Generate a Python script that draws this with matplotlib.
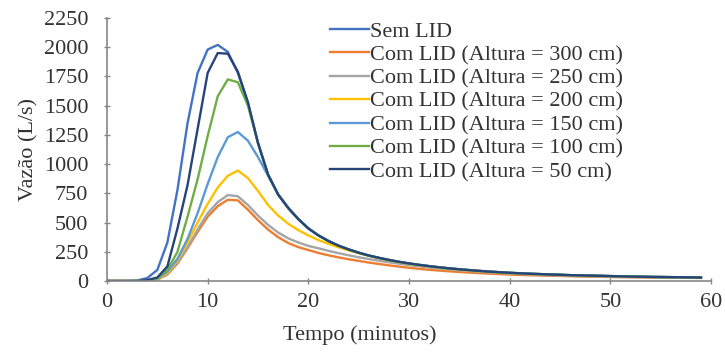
import matplotlib
matplotlib.use("Agg")
from matplotlib import pyplot as plt

plt.rcParams['font.family'] = ['Liberation Serif', 'DejaVu Serif']

tempo = list(range(60))

# valores, um por minuto
sem_lid = [0, 0, 0, 5, 25, 95, 330, 780, 1350, 1780, 1980, 2020, 1960, 1780, 1520,
           1180, 910, 740, 625, 530, 450, 390, 342, 302, 270, 242, 218, 198, 180, 164,
           150, 138, 127, 117, 108, 100, 93, 86, 80, 75, 70, 66, 62, 59, 56,
           53, 50, 48, 46, 44, 42, 40, 38, 37, 35, 34, 33, 32, 31, 30]
h300 = [0, 0, 0, 0, 3, 12, 55, 150, 280, 420, 550, 640, 695, 690, 610,
        520, 440, 375, 325, 290, 265, 240, 220, 202, 186, 172, 158, 146, 134, 123,
        113, 104, 96, 89, 83, 77, 72, 67, 63, 59, 55, 52, 49, 47, 45,
        43, 41, 39, 37, 36, 34, 33, 32, 31, 30, 29, 28, 27, 27, 26]
h250 = [0, 0, 0, 0, 3, 15, 60, 160, 290, 440, 580, 675, 735, 725, 650,
        560, 480, 415, 365, 330, 300, 280, 258, 238, 220, 203, 188, 174, 160, 148,
        136, 126, 116, 107, 99, 92, 85, 79, 74, 69, 64, 60, 56, 53, 50,
        47, 45, 43, 41, 39, 37, 36, 34, 33, 32, 31, 30, 29, 28, 27]
h200 = [0, 0, 0, 0, 3, 15, 70, 180, 330, 500, 660, 800, 900, 945, 880,
        770, 650, 560, 490, 435, 390, 350, 318, 288, 262, 238, 215, 195, 177, 161,
        147, 135, 124, 114, 105, 97, 90, 84, 78, 73, 68, 64, 60, 57, 54,
        51, 49, 47, 45, 43, 41, 39, 37, 36, 34, 33, 32, 31, 30, 29]
h150 = [0, 0, 0, 0, 4, 20, 80, 190, 360, 580, 830, 1060, 1230, 1275, 1200,
        1060, 900, 740, 625, 530, 450, 390, 342, 302, 270, 242, 218, 198, 180, 164,
        150, 138, 127, 117, 108, 100, 93, 86, 80, 75, 70, 66, 62, 59, 56,
        53, 50, 48, 46, 44, 42, 40, 38, 37, 35, 34, 33, 32, 31, 30]
h100 = [0, 0, 0, 0, 3, 25, 95, 250, 550, 870, 1240, 1580, 1725, 1700, 1500,
        1180, 910, 740, 625, 530, 450, 390, 342, 302, 270, 242, 218, 198, 180, 164,
        150, 138, 127, 117, 108, 100, 93, 86, 80, 75, 70, 66, 62, 59, 56,
        53, 50, 48, 46, 44, 42, 40, 38, 37, 35, 34, 33, 32, 31, 30]
h50 = [0, 0, 0, 0, 8, 30, 125, 450, 820, 1300, 1780, 1950, 1945, 1790, 1530,
       1180, 910, 740, 625, 530, 450, 390, 342, 302, 270, 242, 218, 198, 180, 164,
       150, 138, 127, 117, 108, 100, 93, 86, 80, 75, 70, 66, 62, 59, 56,
       53, 50, 48, 46, 44, 42, 40, 38, 37, 35, 34, 33, 32, 31, 30]

series = [
    ("Sem LID", sem_lid, "#4472C4"),
    ("Com LID (Altura = 300 cm)", h300, "#ED7D31"),
    ("Com LID (Altura = 250 cm)", h250, "#A5A5A5"),
    ("Com LID (Altura = 200 cm)", h200, "#FFC000"),
    ("Com LID (Altura = 150 cm)", h150, "#5B9BD5"),
    ("Com LID (Altura = 100 cm)", h100, "#70AD47"),
    ("Com LID (Altura = 50 cm)", h50, "#264478"),
]

txt = "#333333"
fig = plt.figure(figsize=(7.25, 3.55), dpi=100)
ax = fig.add_axes([107 / 725, 74 / 355, 604 / 725, 263 / 355])

for nome, vals, cor in series:
    ax.plot(tempo, vals, color=cor, lw=1.7, label=nome)

ax.set_xlim(0, 60)
ax.set_ylim(0, 2250)
ax.set_xticks(range(0, 61, 10))
ax.set_yticks(range(0, 2251, 250))
for s in ['top', 'right']:
    ax.spines[s].set_visible(False)
for s in ['left', 'bottom']:
    ax.spines[s].set_color('#868686')
    ax.spines[s].set_linewidth(1.2)
ax.tick_params(direction='inout', length=5, width=1, color='#868686',
               labelsize=16, labelcolor=txt)
ax.tick_params(axis='y', pad=11)
ax.tick_params(axis='x', pad=6)

ax.set_xlabel("Tempo (minutos)", fontsize=16, color=txt)
ax.xaxis.set_label_coords(0.419, -0.17)
ax.set_ylabel("Vazão (L/s)", fontsize=16, color=txt)
ax.yaxis.set_label_coords(-0.114, 0.5)

ax.legend(loc='upper left', bbox_to_anchor=(330 / 725, 1 - 21 / 355),
          bbox_transform=fig.transFigure, frameon=False, fontsize=16,
          labelspacing=0.13, handlelength=1.75, handletextpad=0.05,
          borderpad=0, borderaxespad=0, labelcolor=txt)

fig.savefig("out.png", dpi=100)
